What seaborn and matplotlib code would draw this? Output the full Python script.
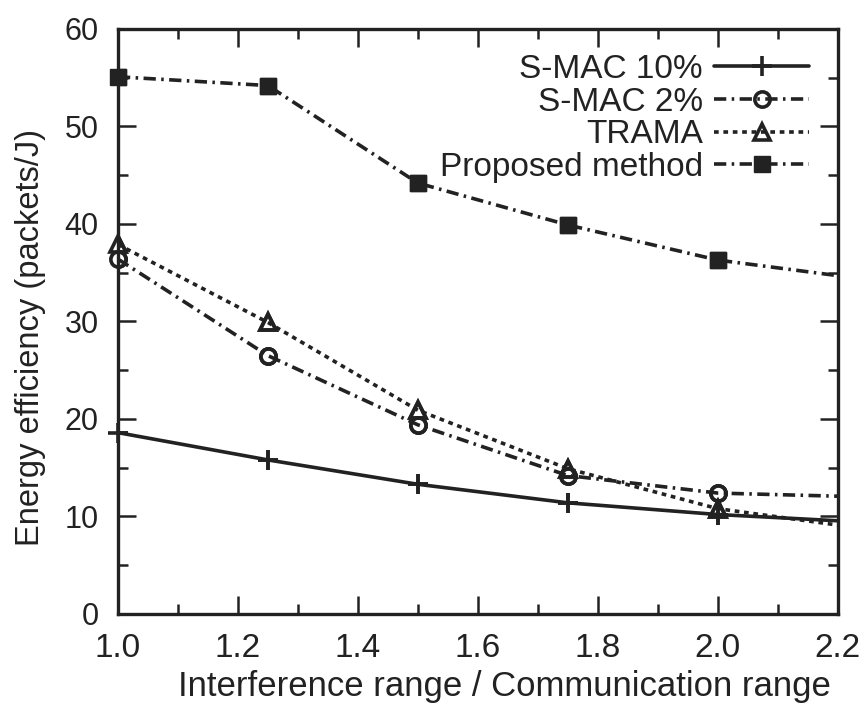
import matplotlib
matplotlib.use("Agg")
import matplotlib.pyplot as plt
from matplotlib.ticker import MultipleLocator
import seaborn as sns
import pandas as pd

# Interference-to-communication range ratios (last point lies past the axis limit)
ratio = [1.0, 1.25, 1.5, 1.75, 2.0, 2.25]

smac10 = [18.6, 15.8, 13.3, 11.4, 10.2, 9.4]
smac2 = [36.4, 26.5, 19.4, 14.2, 12.4, 12.0]
trama = [37.9, 29.9, 20.9, 14.9, 10.8, 8.7]
proposed = [55.1, 54.2, 44.2, 39.9, 36.3, 34.3]

labels = ["S-MAC 10%", "S-MAC 2%", "TRAMA", "Proposed method"]
series = [smac10, smac2, trama, proposed]

sns.set_style("ticks")
plt.rcParams["font.family"] = ["Liberation Sans", "DejaVu Sans"]

INK = "#222222"
fig = plt.figure(figsize=(8.61, 7.16), dpi=100)
ax = fig.add_axes([0.137, 0.1425, 0.836, 0.817])

dashdot = (0, (3.4, 1.5, 0.7, 1.5))
line_styles = [
    dict(linestyle="-", marker="+", markersize=14, mfc="none", mew=2.6),
    dict(linestyle=dashdot, marker="o", markersize=11, mfc="none", mew=2.6),
    dict(linestyle=(0, (1.3, 1.3)), marker="^", markersize=12, mfc="none", mew=2.6),
    dict(linestyle=dashdot, marker="s", markersize=11, mfc=INK, mew=1),
]

visible = [i for i, r in enumerate(ratio) if r <= 2.2]

for name, vals, st in zip(labels, series, line_styles):
    df = pd.DataFrame({"ratio": ratio, "eff": vals})
    # line clipped at the axes edge; markers only at visible points
    sns.lineplot(data=df, x="ratio", y="eff", ax=ax, color=INK, lw=2.6,
                 label=name, mec=INK, markevery=visible, **st)
    mk = {k: v for k, v in st.items() if k != "linestyle"}
    sns.lineplot(data=df.iloc[visible], x="ratio", y="eff", ax=ax, color=INK,
                 linestyle="", mec=INK, clip_on=False, legend=False, zorder=5, **mk)

ax.set_xlim(1.0, 2.2)
ax.set_ylim(0, 60)
ax.xaxis.set_minor_locator(MultipleLocator(0.1))
ax.yaxis.set_major_locator(MultipleLocator(10))
ax.yaxis.set_minor_locator(MultipleLocator(5))
ax.set_xticks([1.0, 1.2, 1.4, 1.6, 1.8, 2.0, 2.2])
ax.set_xticklabels(["1.0", "1.2", "1.4", "1.6", "1.8", "2.0", "2.2"])

ax.tick_params(which="both", direction="in", top=True, right=True, width=1.8,
               colors=INK, labelcolor=INK)
ax.tick_params(which="major", length=13)
ax.tick_params(which="minor", length=7)
ax.tick_params(axis="y", labelsize=22, pad=14)
ax.tick_params(axis="x", labelsize=24, pad=14)
for s in ax.spines.values():
    s.set_linewidth(2.4)
    s.set_color(INK)

ax.set_xlabel("Interference range / Communication range", fontsize=25,
              color=INK, labelpad=4)
ax.xaxis.label.set_x(0.5375)
ax.set_ylabel("Energy efficiency (packets/J)", fontsize=23.5,
              color=INK, labelpad=13)
ax.yaxis.label.set_y(0.4725)

leg = ax.legend(loc="upper right", frameon=False, markerfirst=False,
                fontsize=24, handlelength=2.85, handletextpad=0.34,
                labelspacing=0.05, borderaxespad=0.0,
                bbox_to_anchor=(0.979, 0.98))
for t in leg.get_texts():
    t.set_color(INK)

fig.savefig("out.png", dpi=100)
